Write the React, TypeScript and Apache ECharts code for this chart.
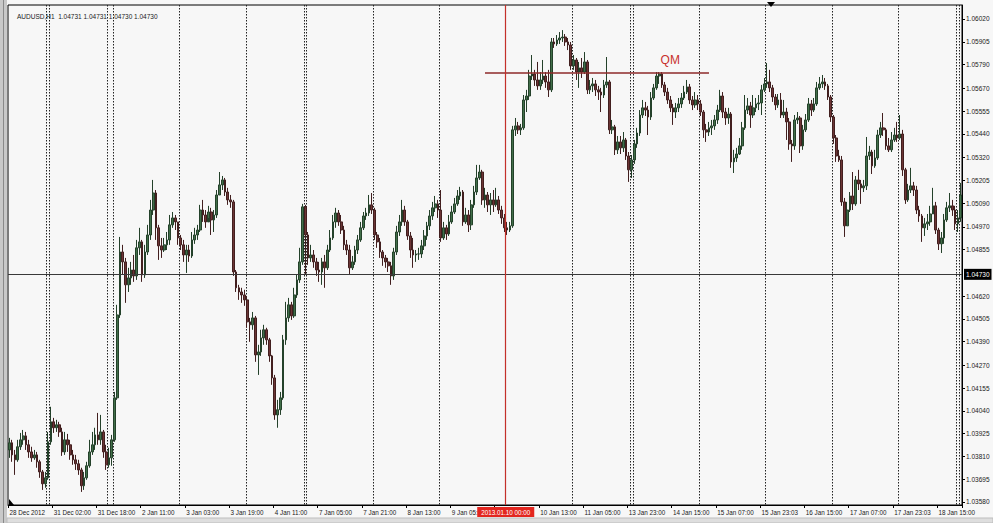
import React, { useEffect, useRef } from "react";
import * as echarts from "echarts";

const symbolName = "AUDUSD,H1";
const quoteValues = ["1.04731", "1.04731", "1.04730", "1.04730"];

const opens = [
  1.03843,1.03879,1.03818,1.03793,1.03859,1.03894,1.03914,1.03869,1.03833,1.03803,
  1.03818,1.03783,1.03732,1.03672,1.03702,1.03884,1.03985,1.03955,1.03970,1.03934,
  1.03833,1.03894,1.03869,1.03818,1.03793,1.03773,1.03742,1.03662,1.03702,1.03763,
  1.03833,1.03869,1.03919,1.03894,1.03934,1.03833,1.03768,1.03803,1.03894,1.04106,
  1.04525,1.04843,1.04793,1.04677,1.04712,1.04752,1.04722,1.04864,1.04894,1.04727,
  1.04843,1.04929,1.05055,1.05141,1.04965,1.04874,1.04853,1.04879,1.04904,1.04980,
  1.05015,1.04995,1.04914,1.04879,1.04828,1.04853,1.04823,1.04904,1.04929,1.04954,
  1.05055,1.05030,1.04995,1.05045,1.05005,1.05030,1.05131,1.05182,1.05207,1.05146,
  1.05106,1.05096,1.04742,1.04662,1.04641,1.04626,1.04601,1.04490,1.04475,1.04510,
  1.04323,1.04338,1.04409,1.04450,1.04399,1.04318,1.04207,1.04020,1.04046,1.04106,
  1.04399,1.04510,1.04576,1.04520,1.04626,1.04702,1.04793,1.05071,1.04929,1.04813,
  1.04828,1.04793,1.04752,1.04742,1.04793,1.04763,1.04853,1.04914,1.04995,1.05040,
  1.04995,1.04954,1.04879,1.04853,1.04763,1.04793,1.04853,1.04904,1.04965,1.05025,
  1.05040,1.05081,1.05055,1.04929,1.04894,1.04843,1.04813,1.04793,1.04773,1.04722,
  1.04843,1.04944,1.04995,1.05055,1.04995,1.04924,1.04853,1.04828,1.04833,1.04833,
  1.04874,1.04924,1.04975,1.05025,1.05066,1.05086,1.05055,1.04914,1.04965,1.04934,
  1.04995,1.05045,1.05086,1.05126,1.05146,1.04995,1.05030,1.04980,1.05081,1.05146,
  1.05217,1.05247,1.05106,1.05131,1.05081,1.05106,1.05081,1.05106,1.05055,1.05015,
  1.04965,1.04954,1.04975,1.05460,1.05480,1.05460,1.05470,1.05611,1.05631,1.05732,
  1.05742,1.05712,1.05682,1.05712,1.05732,1.05702,1.05662,1.05904,1.05894,1.05914,
  1.05924,1.05929,1.05904,1.05889,1.05783,1.05813,1.05752,1.05773,1.05752,1.05803,
  1.05662,1.05682,1.05692,1.05662,1.05651,1.05636,1.05687,1.05702,1.05460,1.05475,
  1.05359,1.05399,1.05369,1.05409,1.05328,1.05258,1.05308,1.05389,1.05444,1.05535,
  1.05571,1.05560,1.05525,1.05621,1.05672,1.05732,1.05742,1.05687,1.05651,1.05611,
  1.05571,1.05550,1.05571,1.05591,1.05621,1.05651,1.05677,1.05611,1.05586,1.05611,
  1.05591,1.05550,1.05460,1.05449,1.05470,1.05480,1.05510,1.05560,1.05631,1.05550,
  1.05520,1.05540,1.05298,1.05318,1.05338,1.05379,1.05470,1.05560,1.05581,1.05535,
  1.05571,1.05591,1.05596,1.05662,1.05692,1.05702,1.05672,1.05626,1.05586,1.05611,
  1.05535,1.05550,1.05500,1.05389,1.05379,1.05510,1.05520,1.05379,1.05460,1.05510,
  1.05591,1.05560,1.05591,1.05672,1.05692,1.05702,1.05682,1.05626,1.05525,1.05419,
  1.05328,1.05308,1.05096,1.04975,1.05055,1.05126,1.05086,1.05207,1.05187,1.05167,
  1.05177,1.05328,1.05348,1.05278,1.05318,1.05434,1.05470,1.05460,1.05379,1.05359,
  1.05409,1.05434,1.05419,1.05439,1.05258,1.05106,1.05156,1.05177,1.05156,1.05055,
  1.05025,1.04965,1.04985,1.04995,1.05035,1.05076,1.04954,1.04884,1.04914,1.05005,
  1.05066,1.05076,1.05055,1.04985,1.05015,
];

const closes = [
  1.03879,1.03818,1.03793,1.03859,1.03894,1.03914,1.03869,1.03833,1.03803,1.03818,
  1.03783,1.03732,1.03672,1.03702,1.03884,1.03985,1.03955,1.03970,1.03934,1.03833,
  1.03894,1.03869,1.03818,1.03793,1.03773,1.03742,1.03662,1.03702,1.03763,1.03833,
  1.03869,1.03919,1.03894,1.03934,1.03833,1.03768,1.03803,1.03894,1.04106,1.04525,
  1.04843,1.04793,1.04677,1.04712,1.04752,1.04722,1.04864,1.04894,1.04727,1.04843,
  1.04929,1.05055,1.05141,1.04965,1.04874,1.04853,1.04879,1.04904,1.04980,1.05015,
  1.04995,1.04914,1.04879,1.04828,1.04853,1.04823,1.04904,1.04929,1.04954,1.05055,
  1.05030,1.04995,1.05045,1.05005,1.05030,1.05131,1.05182,1.05207,1.05146,1.05106,
  1.05096,1.04742,1.04662,1.04641,1.04626,1.04601,1.04490,1.04475,1.04510,1.04323,
  1.04338,1.04409,1.04450,1.04399,1.04318,1.04207,1.04020,1.04046,1.04106,1.04399,
  1.04510,1.04576,1.04520,1.04626,1.04702,1.04793,1.05071,1.04929,1.04813,1.04828,
  1.04793,1.04752,1.04742,1.04793,1.04763,1.04853,1.04914,1.04995,1.05040,1.04995,
  1.04954,1.04879,1.04853,1.04763,1.04793,1.04853,1.04904,1.04965,1.05025,1.05040,
  1.05081,1.05055,1.04929,1.04894,1.04843,1.04813,1.04793,1.04773,1.04722,1.04843,
  1.04944,1.04995,1.05055,1.04995,1.04924,1.04853,1.04828,1.04833,1.04833,1.04874,
  1.04924,1.04975,1.05025,1.05066,1.05086,1.05055,1.04914,1.04965,1.04934,1.04995,
  1.05045,1.05086,1.05126,1.05146,1.04995,1.05030,1.04980,1.05081,1.05146,1.05217,
  1.05247,1.05106,1.05131,1.05081,1.05106,1.05081,1.05106,1.05055,1.05015,1.04965,
  1.04954,1.04975,1.05460,1.05480,1.05460,1.05470,1.05611,1.05631,1.05732,1.05742,
  1.05712,1.05682,1.05712,1.05732,1.05702,1.05662,1.05904,1.05894,1.05914,1.05924,
  1.05929,1.05904,1.05889,1.05783,1.05813,1.05752,1.05773,1.05752,1.05803,1.05662,
  1.05682,1.05692,1.05662,1.05651,1.05636,1.05687,1.05702,1.05460,1.05475,1.05359,
  1.05399,1.05369,1.05409,1.05328,1.05258,1.05308,1.05389,1.05444,1.05535,1.05571,
  1.05560,1.05525,1.05621,1.05672,1.05732,1.05742,1.05687,1.05651,1.05611,1.05571,
  1.05550,1.05571,1.05591,1.05621,1.05651,1.05677,1.05611,1.05586,1.05611,1.05591,
  1.05550,1.05460,1.05449,1.05470,1.05480,1.05510,1.05560,1.05631,1.05550,1.05520,
  1.05540,1.05298,1.05318,1.05338,1.05379,1.05470,1.05560,1.05581,1.05535,1.05571,
  1.05591,1.05596,1.05662,1.05692,1.05702,1.05672,1.05626,1.05586,1.05611,1.05535,
  1.05550,1.05500,1.05389,1.05379,1.05510,1.05520,1.05379,1.05460,1.05510,1.05591,
  1.05560,1.05591,1.05672,1.05692,1.05702,1.05682,1.05626,1.05525,1.05419,1.05328,
  1.05308,1.05096,1.04975,1.05055,1.05126,1.05086,1.05207,1.05187,1.05167,1.05177,
  1.05328,1.05348,1.05278,1.05318,1.05434,1.05470,1.05460,1.05379,1.05359,1.05409,
  1.05434,1.05419,1.05439,1.05258,1.05106,1.05156,1.05177,1.05156,1.05055,1.05025,
  1.04965,1.04985,1.04995,1.05035,1.05076,1.04954,1.04884,1.04914,1.05005,1.05066,
  1.05076,1.05055,1.04985,1.05015,1.05131,
];

const highs = [
  1.03904,1.03894,1.03843,1.03894,1.03929,1.03944,1.03934,1.03894,1.03859,1.03843,
  1.03833,1.03793,1.03742,1.03732,1.03934,1.04061,1.04005,1.03995,1.03985,1.03955,
  1.03934,1.03924,1.03894,1.03843,1.03818,1.03793,1.03753,1.03732,1.03783,1.03894,
  1.03934,1.03955,1.04030,1.04020,1.03944,1.03869,1.03854,1.03919,1.04136,1.04576,
  1.04919,1.04879,1.04813,1.04763,1.04793,1.04828,1.04904,1.04965,1.04904,1.04879,
  1.04980,1.05106,1.05207,1.05156,1.04980,1.04914,1.04914,1.04944,1.05030,1.05045,
  1.05030,1.04995,1.04929,1.04904,1.04879,1.04879,1.04944,1.04965,1.04980,1.05081,
  1.05106,1.05055,1.05076,1.05066,1.05055,1.05156,1.05247,1.05227,1.05217,1.05167,
  1.05131,1.05106,1.04752,1.04677,1.04662,1.04652,1.04621,1.04510,1.04540,1.04520,
  1.04374,1.04450,1.04475,1.04460,1.04409,1.04323,1.04222,1.04096,1.04136,1.04424,
  1.04591,1.04611,1.04591,1.04662,1.04727,1.04864,1.05086,1.05081,1.04944,1.04879,
  1.04853,1.04813,1.04793,1.04813,1.04828,1.04879,1.04954,1.05030,1.05066,1.05055,
  1.05030,1.04975,1.04904,1.04879,1.04823,1.04874,1.04929,1.04995,1.05045,1.05066,
  1.05131,1.05141,1.05066,1.04944,1.04914,1.04853,1.04828,1.04813,1.04793,1.04864,
  1.04975,1.05030,1.05106,1.05076,1.05005,1.04944,1.04914,1.04853,1.04864,1.04904,
  1.04954,1.04995,1.05055,1.05096,1.05126,1.05106,1.05156,1.04995,1.04980,1.05030,
  1.05076,1.05116,1.05156,1.05172,1.05156,1.05066,1.05055,1.05106,1.05177,1.05283,
  1.05283,1.05258,1.05167,1.05146,1.05141,1.05156,1.05167,1.05126,1.05076,1.05035,
  1.04995,1.04995,1.05480,1.05520,1.05500,1.05490,1.05636,1.05662,1.05763,1.05838,
  1.05763,1.05803,1.05752,1.05813,1.05752,1.05763,1.05924,1.05924,1.05939,1.05954,
  1.05964,1.05944,1.05924,1.05904,1.05838,1.05823,1.05803,1.05823,1.05853,1.05813,
  1.05712,1.05722,1.05712,1.05682,1.05672,1.05712,1.05828,1.05712,1.05510,1.05485,
  1.05429,1.05429,1.05449,1.05419,1.05348,1.05333,1.05409,1.05470,1.05560,1.05611,
  1.05601,1.05581,1.05651,1.05692,1.05752,1.05752,1.05752,1.05702,1.05672,1.05631,
  1.05591,1.05596,1.05621,1.05646,1.05682,1.05712,1.05692,1.05631,1.05651,1.05636,
  1.05611,1.05560,1.05490,1.05500,1.05510,1.05535,1.05586,1.05662,1.05651,1.05571,
  1.05571,1.05550,1.05359,1.05369,1.05419,1.05500,1.05636,1.05621,1.05601,1.05636,
  1.05621,1.05636,1.05687,1.05722,1.05798,1.05763,1.05687,1.05641,1.05641,1.05646,
  1.05611,1.05571,1.05520,1.05409,1.05535,1.05550,1.05530,1.05485,1.05540,1.05621,
  1.05611,1.05621,1.05702,1.05727,1.05737,1.05722,1.05692,1.05636,1.05535,1.05434,
  1.05359,1.05328,1.05116,1.05096,1.05146,1.05247,1.05227,1.05258,1.05207,1.05207,
  1.05424,1.05379,1.05359,1.05359,1.05460,1.05500,1.05545,1.05470,1.05419,1.05449,
  1.05470,1.05500,1.05535,1.05460,1.05268,1.05187,1.05268,1.05197,1.05177,1.05076,
  1.05035,1.05015,1.05035,1.05076,1.05167,1.05096,1.04965,1.04944,1.05035,1.05096,
  1.05141,1.05106,1.05076,1.05055,1.05192,
];

const lows = [
  1.03803,1.03783,1.03717,1.03783,1.03843,1.03869,1.03843,1.03803,1.03783,1.03793,
  1.03753,1.03702,1.03641,1.03652,1.03692,1.03869,1.03929,1.03934,1.03909,1.03813,
  1.03818,1.03833,1.03793,1.03768,1.03742,1.03717,1.03631,1.03641,1.03692,1.03753,
  1.03818,1.03843,1.03869,1.03869,1.03803,1.03742,1.03753,1.03763,1.03884,1.04096,
  1.04510,1.04727,1.04586,1.04641,1.04677,1.04692,1.04702,1.04828,1.04692,1.04712,
  1.04828,1.04904,1.05030,1.04904,1.04803,1.04813,1.04843,1.04853,1.04879,1.04965,
  1.04954,1.04879,1.04853,1.04793,1.04737,1.04793,1.04813,1.04884,1.04904,1.04944,
  1.04995,1.04965,1.05015,1.04929,1.04944,1.05015,1.05131,1.05156,1.05126,1.05081,
  1.05066,1.04722,1.04641,1.04601,1.04586,1.04571,1.04460,1.04389,1.04450,1.04288,
  1.04222,1.04318,1.04374,1.04374,1.04288,1.04172,1.03995,1.03955,1.04020,1.04096,
  1.04374,1.04490,1.04500,1.04510,1.04611,1.04687,1.04778,1.04727,1.04778,1.04793,
  1.04763,1.04722,1.04692,1.04677,1.04662,1.04752,1.04843,1.04904,1.04965,1.04975,
  1.04934,1.04853,1.04828,1.04732,1.04752,1.04778,1.04833,1.04894,1.04954,1.05005,
  1.05025,1.05035,1.04904,1.04864,1.04813,1.04773,1.04763,1.04742,1.04677,1.04702,
  1.04828,1.04924,1.04975,1.04975,1.04904,1.04813,1.04763,1.04793,1.04803,1.04813,
  1.04853,1.04904,1.04954,1.05005,1.05045,1.05015,1.04894,1.04904,1.04904,1.04924,
  1.04985,1.05035,1.05076,1.05106,1.04975,1.04985,1.04944,1.04954,1.05066,1.05131,
  1.05207,1.05081,1.05066,1.05045,1.05030,1.05045,1.05071,1.05035,1.04985,1.04944,
  1.04929,1.04944,1.04965,1.05429,1.05439,1.05434,1.05460,1.05550,1.05611,1.05712,
  1.05682,1.05662,1.05662,1.05692,1.05672,1.05626,1.05651,1.05874,1.05884,1.05894,
  1.05904,1.05884,1.05863,1.05763,1.05763,1.05712,1.05672,1.05722,1.05742,1.05641,
  1.05641,1.05651,1.05631,1.05611,1.05550,1.05621,1.05672,1.05439,1.05439,1.05333,
  1.05338,1.05338,1.05348,1.05308,1.05197,1.05217,1.05288,1.05369,1.05429,1.05520,
  1.05530,1.05434,1.05510,1.05611,1.05662,1.05692,1.05672,1.05631,1.05591,1.05550,
  1.05485,1.05520,1.05550,1.05571,1.05611,1.05641,1.05591,1.05560,1.05571,1.05560,
  1.05530,1.05419,1.05399,1.05429,1.05434,1.05460,1.05490,1.05550,1.05520,1.05485,
  1.05490,1.05268,1.05242,1.05298,1.05333,1.05359,1.05460,1.05540,1.05470,1.05520,
  1.05550,1.05560,1.05535,1.05651,1.05672,1.05651,1.05601,1.05560,1.05571,1.05520,
  1.05520,1.05409,1.05359,1.05298,1.05359,1.05490,1.05343,1.05359,1.05449,1.05500,
  1.05530,1.05550,1.05581,1.05662,1.05672,1.05662,1.05611,1.05500,1.05389,1.05298,
  1.05298,1.05076,1.04919,1.04995,1.05045,1.05055,1.05076,1.05156,1.05086,1.05146,
  1.05156,1.05308,1.05237,1.05268,1.05308,1.05419,1.05429,1.05359,1.05348,1.05348,
  1.05399,1.05399,1.05409,1.05227,1.05086,1.05096,1.05141,1.05126,1.05035,1.04995,
  1.04894,1.04924,1.04954,1.04975,1.05035,1.04934,1.04853,1.04838,1.04884,1.04995,
  1.05045,1.05025,1.04954,1.04944,1.04995,
];

// time labels shown every 16 hourly bars
const timeLabels = [
  "28 Dec 2012", "31 Dec 02:00", "31 Dec 18:00", "2 Jan 11:00", "3 Jan 03:00",
  "3 Jan 19:00", "4 Jan 11:00", "7 Jan 05:00", "7 Jan 21:00", "8 Jan 13:00",
  "9 Jan 05:00", "", "10 Jan 13:00", "11 Jan 05:00", "13 Jan 23:00",
  "14 Jan 15:00", "15 Jan 07:00", "15 Jan 23:03", "16 Jan 15:00", "17 Jan 07:00",
  "17 Jan 23:03", "18 Jan 15:00",
];
const labelEvery = 16;

const priceTicks = [
  1.0358, 1.03695, 1.0381, 1.03925, 1.0404, 1.04155, 1.0427, 1.0439, 1.04505,
  1.0462, 1.04855, 1.0497, 1.0509, 1.05205, 1.0532, 1.0544, 1.05555, 1.0567,
  1.0579, 1.05905, 1.0602,
];
const priceMin = 1.035648;
const priceMax = 1.060907;

// bar boundaries where the dotted period separators are drawn
const separatorBars = [14, 15, 36, 38, 62, 86, 107, 108, 132, 156, 204, 225, 226, 250, 274, 298, 322, 343, 344];

const crosshairBoundary = 180;
const crosshairLabel = "2013.01.10 00:00";
const currentPrice = 1.0473;
const qmLevel = 1.05747;
const qmStartBar = 172;
const qmEndBar = 253;
const qmLabelBar = 239;
const qmLabelPrice = 1.05813;

const FONT = "'Liberation Sans', Arial, sans-serif";

export default function App() {
  const ref = useRef<HTMLDivElement>(null);

  useEffect(() => {
    if (!ref.current) return;
    const chart = echarts.init(ref.current, undefined, { renderer: "svg" });
    const cats = closes.map((_, i) => String(i));
    // bar boundaries (one more than bars) for the crosshair axis
    const boundaries = [...cats, String(closes.length)];
    const candles = closes.map((c, i) => [opens[i], c, lows[i], highs[i]]);

    const option: any = {
      animation: false,
      backgroundColor: "#f7f7f7",
      title: {
        text: `${symbolName}  ${quoteValues.join(" ")}`,
        left: 12,
        top: 8,
        textStyle: { fontSize: 6.5, fontWeight: "normal", color: "#1a1a1a", fontFamily: FONT },
      },
      grid: {
        left: 8,
        right: 31,
        top: 5,
        bottom: 18,
        show: true,
        borderColor: "#000",
        borderWidth: 1,
        backgroundColor: "#f7f7f7",
      },
      xAxis: [
        {
          type: "category",
          data: cats,
          boundaryGap: true,
          position: "bottom",
          axisLine: { show: true, lineStyle: { color: "#000", width: 1 } },
          axisTick: {
            show: true,
            interval: (i: number) => i % labelEvery === 0,
            length: 3,
            lineStyle: { color: "#000" },
          },
          axisLabel: {
            interval: (i: number) => i % labelEvery === 0,
            formatter: (_v: string, i: number) => timeLabels[i / labelEvery] ?? "",
            align: "left",
            fontSize: 6.3,
            color: "#1a1a1a",
            margin: 4,
            fontFamily: FONT,
          },
          splitLine: {
            show: true,
            interval: (i: number) => separatorBars.includes(i),
            lineStyle: { color: "#222", type: [1.5, 1.5], width: 1 },
          },
        },
        {
          type: "category",
          data: boundaries,
          boundaryGap: false,
          position: "bottom",
          z: 6,
          axisLine: { show: false },
          axisTick: { show: false },
          axisLabel: {
            interval: (i: number) => i === crosshairBoundary,
            formatter: () => crosshairLabel,
            backgroundColor: "#e3261f",
            color: "#fff",
            fontSize: 6.3,
            padding: [2, 4],
            margin: 2,
            fontFamily: FONT,
          },
          splitLine: {
            show: true,
            interval: (i: number) => i === crosshairBoundary,
            lineStyle: { color: ["#c4302a"], width: 1.2, type: "solid", opacity: 1 },
          },
        },
      ],
      yAxis: {
        type: "value",
        position: "right",
        min: priceMin,
        max: priceMax,
        axisLine: { show: true, lineStyle: { color: "#000" } },
        axisTick: { show: true, customValues: priceTicks, length: 3, lineStyle: { color: "#000" } },
        axisLabel: {
          customValues: priceTicks,
          formatter: (v: number) => v.toFixed(5),
          fontSize: 6.5,
          color: "#1a1a1a",
          margin: 4,
          fontFamily: FONT,
        },
        splitLine: { show: false },
      },
      series: [
        {
          type: "candlestick",
          data: candles,
          barWidth: 2.2,
          itemStyle: {
            color: "#426f4a",
            color0: "#6c3535",
            borderColor: "#24412a",
            borderColor0: "#421f1f",
            borderWidth: 1,
          },
          markLine: {
            silent: true,
            symbol: ["none", "none"],
            animation: false,
            precision: 5,
            data: [
              {
                yAxis: currentPrice,
                lineStyle: { color: "#3a3a3a", width: 1, type: "solid" },
                label: {
                  show: true,
                  position: "end",
                  formatter: currentPrice.toFixed(5),
                  backgroundColor: "#000",
                  color: "#fff",
                  fontSize: 6.5,
                  fontFamily: FONT,
                  padding: [2, 2],
                  distance: 2,
                },
              },
              [
                {
                  coord: [qmStartBar, qmLevel],
                  lineStyle: { color: "#8e2a2a", width: 1.6, type: "solid" },
                  label: { show: false },
                },
                { coord: [qmEndBar, qmLevel] },
              ],
            ],
          },
          markPoint: {
            silent: true,
            animation: false,
            data: [
              {
                coord: [qmLabelBar, qmLabelPrice],
                symbol: "circle",
                symbolSize: 0,
                label: {
                  show: true,
                  position: "inside",
                  formatter: "QM",
                  color: "#c8302c",
                  fontSize: 12,
                  fontFamily: FONT,
                },
              },
            ],
          },
        },
      ],
      graphic: [
        { type: "rect", shape: { x: 0, y: 0, width: 7, height: 523 }, style: { fill: "#c9c9c9" }, z: 10 },
        { type: "line", shape: { x1: 3.5, y1: 0, x2: 3.5, y2: 523 }, style: { stroke: "#8a8a8a", lineWidth: 1 }, z: 10 },
        { type: "polygon", shape: { points: [[767, 2], [775, 2], [771, 7]] }, style: { fill: "#000" }, z: 10 },
        { type: "polygon", shape: { points: [[9, 499], [9, 505], [14, 505]] }, style: { fill: "#000" }, z: 10 },
        { type: "rect", shape: { x: 7, y: 518, width: 986, height: 5 }, style: { fill: "#dedede", stroke: "#bdbdbd", lineWidth: 1 }, z: 10 },
      ],
    };

    chart.setOption(option);
    return () => chart.dispose();
  }, []);

  return (
    <div
      ref={ref}
      style={{ position: "fixed", left: 0, top: 0, width: 993, height: 523, background: "#f7f7f7" }}
    />
  );
}
